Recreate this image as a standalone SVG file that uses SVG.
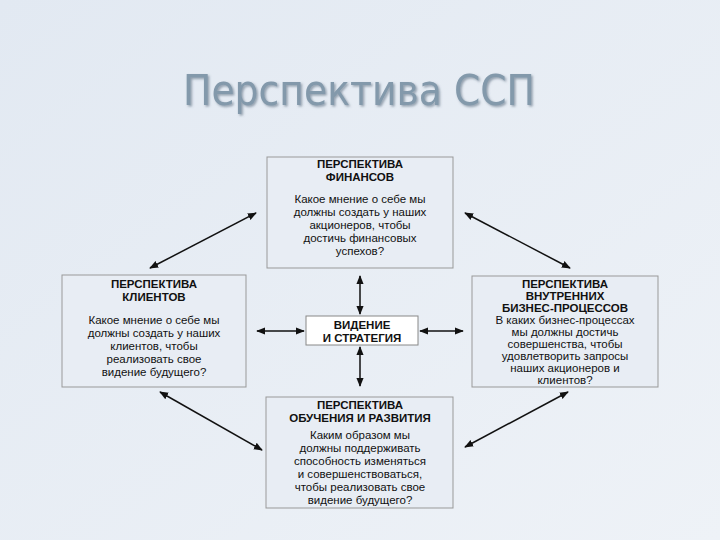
<svg xmlns="http://www.w3.org/2000/svg" width="720" height="540" viewBox="0 0 720 540">
<defs>
<linearGradient id="bg" x1="0" y1="0" x2="1" y2="1"><stop offset="0" stop-color="#e2e9f2"/><stop offset="1" stop-color="#eef2f7"/></linearGradient>
<filter id="sh" x="-5%" y="-20%" width="110%" height="140%"><feDropShadow dx="1.5" dy="1.5" stdDeviation="0.8" flood-color="#55687a" flood-opacity="0.6"/></filter>
<marker id="ah" viewBox="0 0 10 10" refX="9" refY="5" markerWidth="6" markerHeight="6" orient="auto-start-reverse"><path d="M0,1 L10,5 L0,9 z" fill="#111"/></marker>
<style>
.box{fill:#e8edf4;stroke:#999;stroke-width:1}
.h{font-family:"Liberation Sans",Arial,sans-serif;font-weight:bold;font-size:11.5px;fill:#111;text-anchor:middle}
.t{font-family:"Liberation Sans",Arial,sans-serif;font-size:11.5px;fill:#111;text-anchor:middle}
.c line{stroke:#111;stroke-width:1.5;marker-end:url(#ah);marker-start:url(#ah)}
</style>
</defs>
<rect width="720" height="540" fill="url(#bg)"/>
<text x="183" y="105" font-family="DejaVu Sans,Verdana,sans-serif" font-size="42" fill="#8399ab" textLength="352" lengthAdjust="spacingAndGlyphs" filter="url(#sh)">Перспектива ССП</text>
<g class="c">
<line x1="360" y1="314" x2="360" y2="276"/>
<line x1="360" y1="347" x2="360" y2="386"/>
<line x1="304" y1="331" x2="257" y2="331"/>
<line x1="420" y1="331" x2="463" y2="331"/>
<line x1="150" y1="268" x2="256" y2="213"/>
<line x1="465" y1="213" x2="570" y2="268"/>
<line x1="160" y1="392" x2="262" y2="450"/>
<line x1="465" y1="447" x2="568" y2="392"/>
</g>
<g id="fin"><rect class="box" x="267" y="157" width="186" height="111"/>
<text class="h" x="360" y="168">ПЕРСПЕКТИВА</text><text class="h" x="360" y="181">ФИНАНСОВ</text>
<text class="t" x="360" y="203">Какое мнение о себе мы</text><text class="t" x="360" y="216">должны создать у наших</text><text class="t" x="360" y="229">акционеров, чтобы</text><text class="t" x="360" y="242">достичь финансовых</text><text class="t" x="360" y="255">успехов?</text></g>
<g id="cli"><rect class="box" x="62" y="275" width="184" height="112"/>
<text class="h" x="154" y="288">ПЕРСПЕКТИВА</text><text class="h" x="154" y="301">КЛИЕНТОВ</text>
<text class="t" x="154" y="324">Какое мнение о себе мы</text><text class="t" x="154" y="337">должны создать у наших</text><text class="t" x="154" y="350">клиентов, чтобы</text><text class="t" x="154" y="363">реализовать свое</text><text class="t" x="154" y="376">видение будущего?</text></g>
<g id="biz"><rect class="box" x="472" y="276" width="186" height="111"/>
<text class="h" x="565" y="288">ПЕРСПЕКТИВА</text><text class="h" x="565" y="300">ВНУТРЕННИХ</text><text class="h" x="565" y="312">БИЗНЕС-ПРОЦЕССОВ</text>
<text class="t" x="565" y="324">В каких бизнес-процессах</text><text class="t" x="565" y="336">мы должны достичь</text><text class="t" x="565" y="348">совершенства, чтобы</text><text class="t" x="565" y="360">удовлетворить запросы</text><text class="t" x="565" y="372">наших акционеров и</text><text class="t" x="565" y="384">клиентов?</text></g>
<g id="edu"><rect class="box" x="266" y="397" width="187" height="111"/>
<text class="h" x="360" y="409">ПЕРСПЕКТИВА</text><text class="h" x="360" y="422">ОБУЧЕНИЯ И РАЗВИТИЯ</text>
<text class="t" x="360" y="439">Каким образом мы</text><text class="t" x="360" y="452">должны поддерживать</text><text class="t" x="360" y="465">способность изменяться</text><text class="t" x="360" y="478">и совершенствоваться,</text><text class="t" x="360" y="491">чтобы реализовать свое</text><text class="t" x="360" y="504">видение будущего?</text></g>
<g id="vis"><rect x="306" y="316" width="112" height="29" fill="#fff" stroke="#888"/>
<text class="h" x="362" y="329" font-size="12">ВИДЕНИЕ</text><text class="h" x="362" y="342" font-size="12">И СТРАТЕГИЯ</text></g>
</svg>
